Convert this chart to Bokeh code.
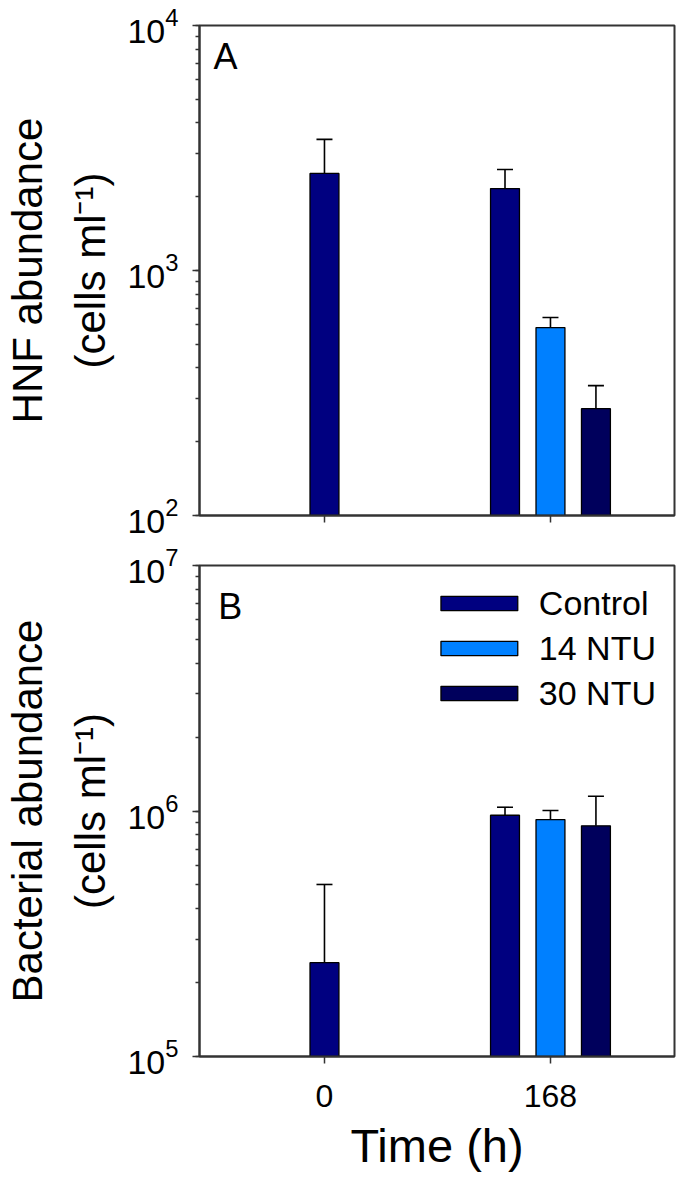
from bokeh.plotting import figure
from bokeh.models import (ColumnDataSource, Whisker, TeeHead, FixedTicker,
                          LinearAxis, Label, Legend, LegendItem)
from bokeh.layouts import column
from bokeh.embed import file_html
from bokeh.resources import INLINE

# ---------------- data ----------------
times = [0, 168]
treatments = ["Control", "14 NTU", "30 NTU"]
colors = ["#000080", "#0080FF", "#00005C"]

bar_time = [0, 168, 168, 168]
bar_treatment = ["Control", "Control", "14 NTU", "30 NTU"]
hnf_mean = [2490, 2160, 585, 273]
hnf_sd = [940, 425, 58, 66]
bac_mean = [2.41e5, 9.61e5, 9.23e5, 8.70e5]
bac_sd = [2.61e5, 0.75e5, 0.82e5, 2.79e5]

# ---------------- style / layout ----------------
FONT = "Liberation Sans"
AXIS_COLOR = "#333333"
BAR_WIDTH = 21.5
BAR_SPACING = 33.8
X_RANGE = (-92.9, 260.2)


def bar_positions():
    xs = []
    for t, tr in zip(bar_time, bar_treatment):
        present = [b for bt, b in zip(bar_time, bar_treatment) if bt == t]
        n = len(present)
        idx = present.index(tr)
        xs.append(t + (idx - (n - 1) / 2.0) * BAR_SPACING)
    return xs


def make_panel(mean, sd, y_range, label1, label2, letter, letter_x, letter_y,
               show_xlabels, with_legend, min_top, frame_h, min_bottom):
    p = figure(frame_width=475, frame_height=frame_h,
               min_border_left=198, min_border_right=2,
               min_border_top=min_top, min_border_bottom=min_bottom,
               y_axis_type="log", y_range=y_range, x_range=X_RANGE,
               output_backend="svg", toolbar_location=None,
               background_fill_color="white", border_fill_color="white")
    p.grid.visible = False
    p.outline_line_color = AXIS_COLOR
    p.outline_line_width = 2

    xs = bar_positions()
    upper = [m + s for m, s in zip(mean, sd)]
    src_all = ColumnDataSource(dict(x=xs, top=mean, upper=upper,
                                    treat=bar_treatment))

    renderers = {}
    for tr, col in zip(treatments, colors):
        sel = [i for i, b in enumerate(bar_treatment) if b == tr]
        src = ColumnDataSource(dict(x=[xs[i] for i in sel],
                                    top=[mean[i] for i in sel]))
        r = p.vbar(x="x", top="top", bottom=y_range[0], width=BAR_WIDTH,
                   source=src, fill_color=col, line_color="black",
                   line_width=1.3)
        renderers[tr] = r

    w = Whisker(source=src_all, base="x", upper="upper", lower="top",
                dimension="height", line_color="black", line_width=1.6,
                upper_head=TeeHead(size=16, line_color="black", line_width=1.6),
                lower_head=None)
    p.add_layout(w)

    # x axis
    xa = p.xaxis[0]
    xa.ticker = FixedTicker(ticks=times)
    xa.minor_tick_line_color = None
    xa.major_tick_in = 0
    xa.major_tick_out = 7
    xa.axis_line_color = AXIS_COLOR
    xa.axis_line_width = 2
    xa.major_tick_line_color = AXIS_COLOR
    xa.major_tick_line_width = 1.5
    if show_xlabels:
        xa.major_label_text_font = FONT
        xa.major_label_text_font_size = "32px"
        xa.major_label_text_color = "black"
        xa.major_label_standoff = 21
        xa.axis_label = "Time (h)"
        xa.axis_label_text_font = FONT
        xa.axis_label_text_font_size = "47px"
        xa.axis_label_text_font_style = "normal"
        xa.axis_label_text_color = "black"
        xa.axis_label_standoff = 9
    else:
        xa.major_label_text_font_size = "1px"
        xa.major_label_text_color = None
        xa.major_label_standoff = 0

    # y axis (inner: ticks + second label line)
    ya = p.yaxis[0]
    ya.major_tick_in = 0
    ya.major_tick_out = 7
    ya.minor_tick_in = 0
    ya.minor_tick_out = 4
    ya.axis_line_color = AXIS_COLOR
    ya.axis_line_width = 2
    ya.major_tick_line_color = AXIS_COLOR
    ya.minor_tick_line_color = AXIS_COLOR
    ya.major_tick_line_width = 1.5
    ya.minor_tick_line_width = 1.5
    ya.major_label_text_font = FONT
    ya.major_label_text_font_size = "34px"
    ya.major_label_text_color = "black"
    ya.major_label_standoff = 14
    ya.axis_label = label2
    ya.axis_label_text_font = FONT
    ya.axis_label_text_font_size = "42px"
    ya.axis_label_text_font_style = "normal"
    ya.axis_label_text_color = "black"
    ya.axis_label_standoff = 10

    # outer axis carrying the first label line
    outer = LinearAxis(ticker=FixedTicker(ticks=[]), axis_line_color=None,
                       major_tick_out=0, major_tick_in=0,
                       minor_tick_out=0, minor_tick_in=0,
                       major_label_text_font_size="1px",
                       major_label_text_color=None,
                       major_label_standoff=0,
                       axis_label=label1, axis_label_text_font=FONT,
                       axis_label_text_font_size="42px",
                       axis_label_text_font_style="normal",
                       axis_label_text_color="black",
                       axis_label_standoff=14)
    p.add_layout(outer, "left")

    p.add_layout(Label(x=letter_x, y=letter_y, text=letter,
                       text_font=FONT, text_font_size="36px",
                       text_baseline="alphabetic", text_align="left",
                       text_color="black"))

    if with_legend:
        items = [LegendItem(label=tr, renderers=[renderers[tr]])
                 for tr in treatments]
        lg = Legend(items=items, location="top_right",
                    border_line_color=None, background_fill_alpha=0,
                    glyph_width=96, glyph_height=18,
                    label_text_font=FONT, label_text_font_size="34px",
                    label_text_color="black",
                    label_standoff=12, spacing=5, padding=0, margin=18,
                    label_height=40)
        p.add_layout(lg)
    return p


pA = make_panel(hnf_mean, hnf_sd, (1e2, 1e4), "HNF abundance",
                "(cells ml\u207b\u00b9)", "A", -82.5, 7470, False, False,
                25, 490, 25)
pB = make_panel(bac_mean, bac_sd, (1e5, 1e7), "Bacterial abundance",
                "(cells ml\u207b\u00b9)", "B", -79.0, 6.81e6, True, True,
                25, 491, 125)

layout = column(pA, pB, spacing=0)
open("out.html", "w").write(file_html(layout, INLINE))
